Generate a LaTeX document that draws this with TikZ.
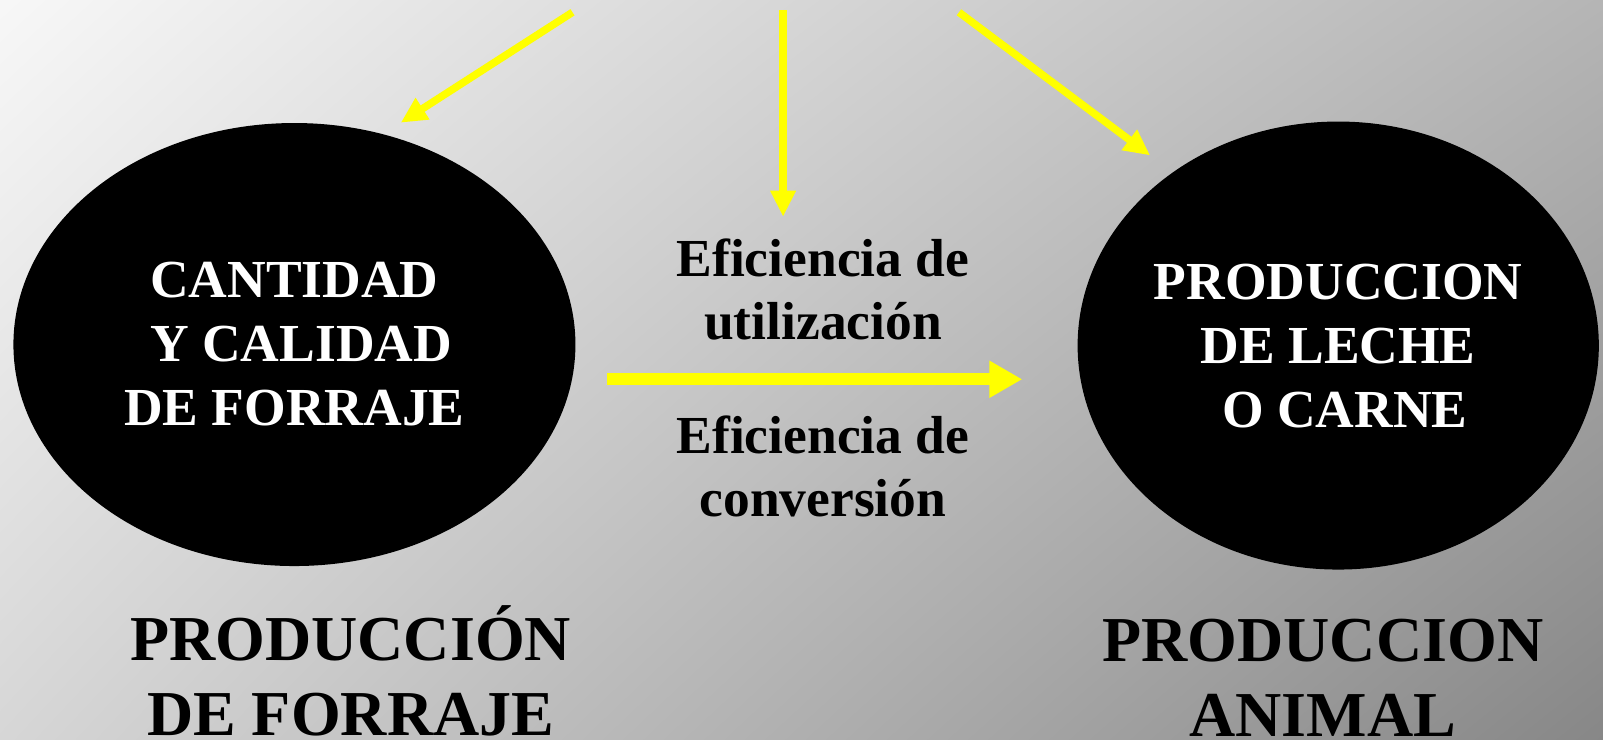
\documentclass[tikz,border=0pt]{standalone}
\usepackage{fontspec}
\setmainfont{Liberation Serif}
\usetikzlibrary{shapes.geometric,arrows.meta,shadings}

\definecolor{bgTL}{gray}{0.97}
\definecolor{bgTR}{gray}{0.71}
\definecolor{bgBL}{gray}{0.84}
\definecolor{bgBR}{gray}{0.53}
\definecolor{flowyellow}{RGB}{255,255,0}

\begin{document}
\begin{tikzpicture}[x=1.0223pt,y=-1.0223pt,
  blob/.style={ellipse,fill=black,text=white,align=center,inner sep=0pt,
    font=\fontsize{53.5}{64}\selectfont\bfseries},
  midtext/.style={align=center,font=\fontsize{53.5}{63.5}\selectfont\bfseries},
  bigtext/.style={align=center,font=\fontsize{64}{75}\selectfont\bfseries},
  thinflow/.style={draw=flowyellow,line width=7.5pt,-{Triangle[length=26pt,width=24pt]}},
  thickflow/.style={draw=flowyellow,line width=12pt,-{Triangle[length=33pt,width=35pt]}}]

  % Draw the background
  \useasboundingbox (0,0) rectangle (1568,723);
  \shade[upper left=bgTL,upper right=bgTR,lower left=bgBL,lower right=bgBR]
    (0,0) rectangle (1568,723);

  % the two ellipses
  \node[blob,minimum width=562pt,minimum height=443pt] (forage) at (288,337)
    {CANTIDAD\ \\ \ Y CALIDAD\\ DE FORRAJE};
  \node[blob,minimum width=513pt,minimum height=448pt] (animal) at (1309,338)
    {PRODUCCION\\ DE LECHE\\ \ O CARNE};

  % texts between and below
  \node[midtext] (useeff) at (805,283) {Eficiencia de\\ utilización};
  \node[midtext] (conveff) at (805,456) {Eficiencia de\\ conversión};
  \node[bigtext] (foragecap) at (343,656) {PRODUCCIÓN\\ DE FORRAJE};
  \node[bigtext] (animalcap) at (1294,663) {PRODUCCION\\ ANIMAL};

  % arrows from the top
  \coordinate (srcL) at (560,12);
  \coordinate (tipL) at (392,120);
  \coordinate (srcM) at (766,10);
  \coordinate (tipM) at (766,212);
  \coordinate (srcR) at (938,12);
  \coordinate (tipR) at (1125,152);
  \draw[thinflow] (srcL) -- (tipL);
  \draw[thinflow] (srcM) -- (tipM);
  \draw[thinflow] (srcR) -- (tipR);

  % main arrow
  \coordinate (srcH) at (594,371);
  \coordinate (tipH) at (1000,371);
  \draw[thickflow] (srcH) -- (tipH);

\end{tikzpicture}
\end{document}
